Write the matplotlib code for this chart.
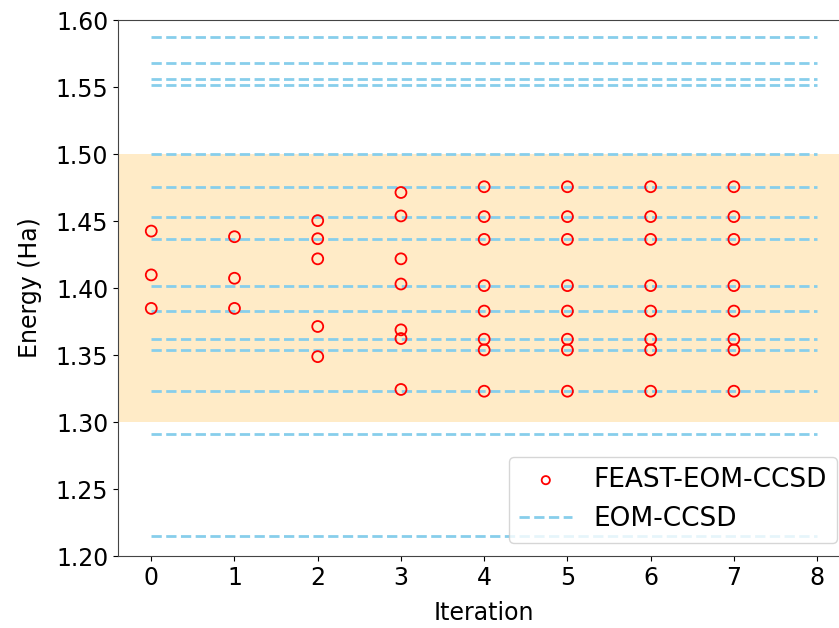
import matplotlib
matplotlib.use("Agg")
import matplotlib.pyplot as plt

# EOM-CCSD reference energies (Ha)
eom_ccsd = [1.5873, 1.5678, 1.5560, 1.5518, 1.5003, 1.4756, 1.4533, 1.4363,
            1.4018, 1.3828, 1.3618, 1.3538, 1.3230, 1.2912, 1.2150]

# FEAST-EOM-CCSD eigenvalues per iteration
feast = {
    0: [1.4425, 1.4098, 1.3848],
    1: [1.4383, 1.4073, 1.3848],
    2: [1.4503, 1.4368, 1.4218, 1.3713, 1.3488],
    3: [1.4713, 1.4538, 1.4218, 1.4030, 1.3688, 1.3623, 1.3243],
    4: [1.4756, 1.4533, 1.4363, 1.4018, 1.3828, 1.3618, 1.3538, 1.3230],
    5: [1.4756, 1.4533, 1.4363, 1.4018, 1.3828, 1.3618, 1.3538, 1.3230],
    6: [1.4756, 1.4533, 1.4363, 1.4018, 1.3828, 1.3618, 1.3538, 1.3230],
    7: [1.4756, 1.4533, 1.4363, 1.4018, 1.3828, 1.3618, 1.3538, 1.3230],
}
window = (1.30, 1.50)
n_iter = 8

fig = plt.figure(figsize=(8.39, 6.28), dpi=100)
ax = fig.add_axes([0.1406, 0.1146, 0.873, 0.8535])

ax.axhspan(window[0], window[1], color="orange", alpha=0.22, lw=0, zorder=0)

xs, ys = [], []
for it, vals in feast.items():
    xs += [it] * len(vals)
    ys += vals
ax.scatter(xs, ys, s=62, facecolors="none", edgecolors="red", linewidths=1.3,
           label="FEAST-EOM-CCSD", zorder=3)

for i, e in enumerate(eom_ccsd):
    ax.plot([0, n_iter], [e, e], "--", color="skyblue", lw=2,
            label="EOM-CCSD" if i == 0 else None, zorder=2)

ax.set_xlim(-0.4, 8.4)
ax.set_ylim(1.20, 1.60)
ax.set_xticks(range(0, 9))
ax.set_yticks([1.20, 1.25, 1.30, 1.35, 1.40, 1.45, 1.50, 1.55, 1.60])
ax.tick_params(labelsize=17)
ax.set_xlabel("Iteration", fontsize=17, labelpad=8)
ax.set_ylabel("Energy (Ha)", fontsize=17, labelpad=10)
for s in ax.spines.values():
    s.set_color("#444444")

ax.legend(loc="lower right", fontsize=19, markerscale=0.75)

fig.savefig("out.png", dpi=100)
